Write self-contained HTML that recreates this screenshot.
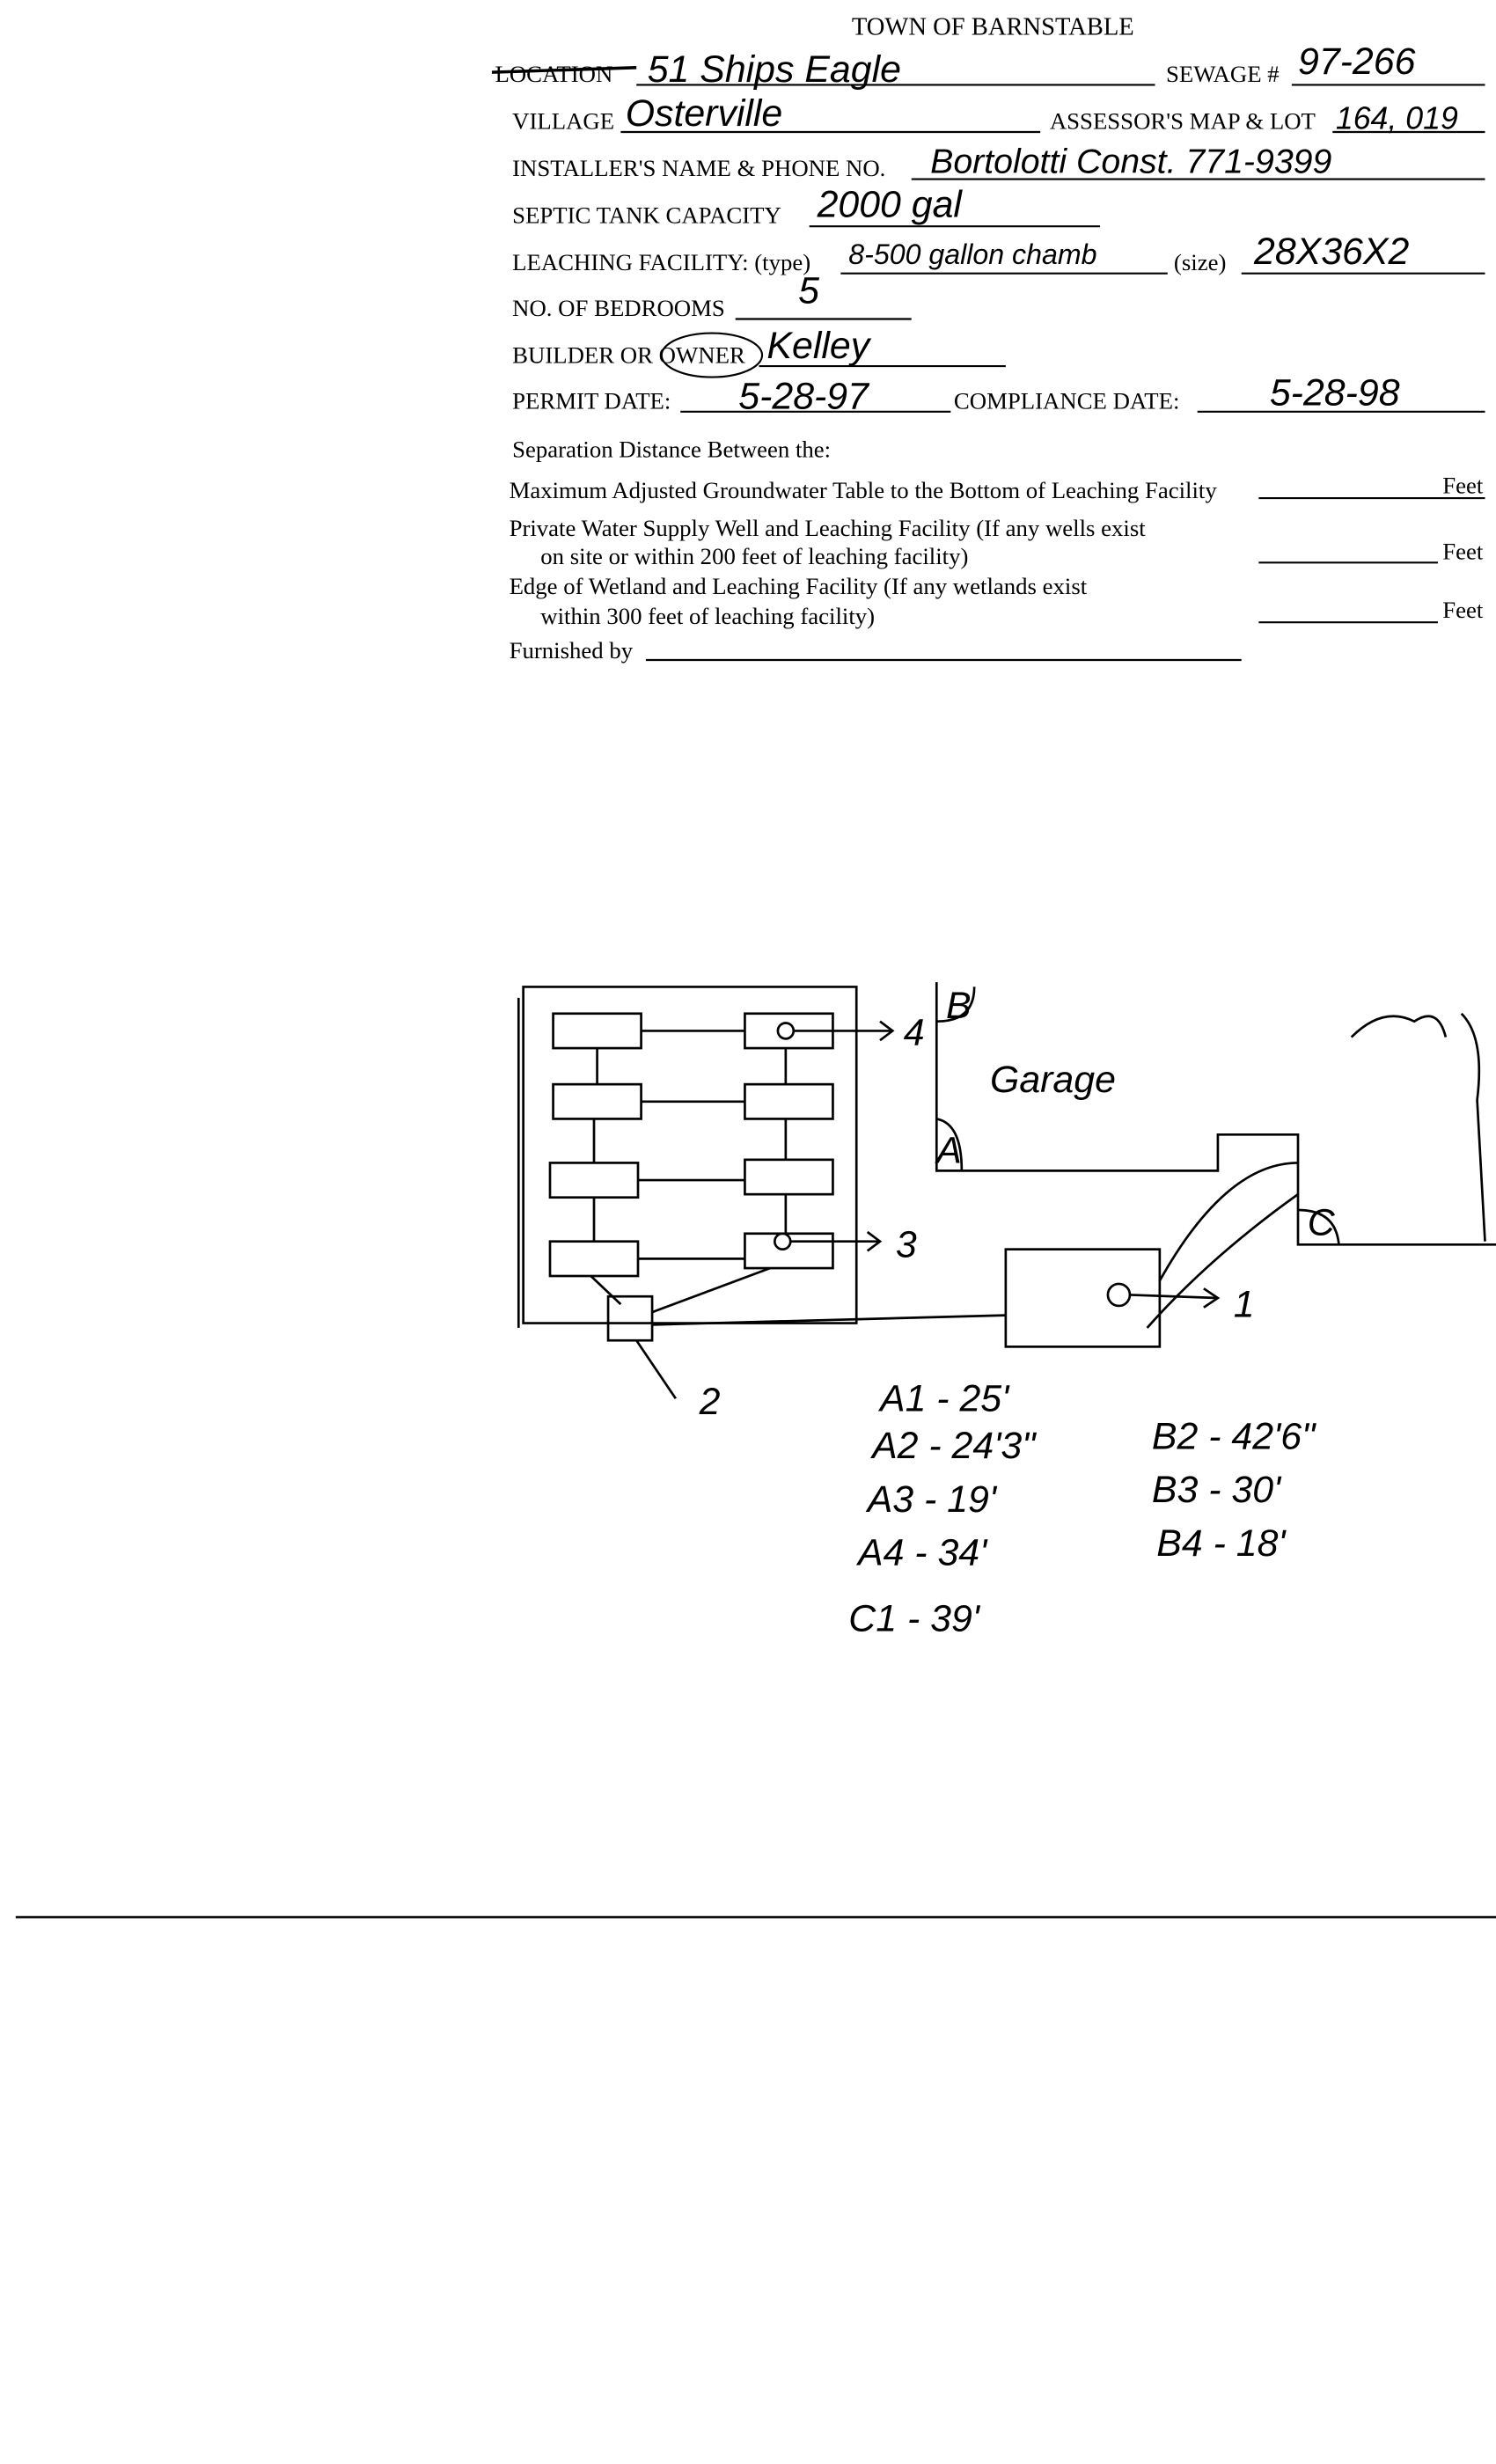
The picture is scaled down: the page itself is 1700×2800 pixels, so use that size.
<!DOCTYPE html>
<html><head><meta charset="utf-8"><style>
html,body{margin:0;padding:0;background:#fff;}
svg{display:block;}
.p{font-family:"Liberation Serif",serif;font-size:15px;fill:#000;}
.h{font-family:"Liberation Sans",sans-serif;font-style:italic;font-size:24px;fill:#000;}
</style></head><body>
<svg width="1700" height="2800" viewBox="0 0 952 1568" xmlns="http://www.w3.org/2000/svg">
<rect width="952" height="1568" fill="#fff"/>
<g class="p">
<text x="542" y="22" font-size="16">TOWN OF BARNSTABLE</text>
<text x="315" y="52">LOCATION</text>
<line x1="313" y1="46" x2="405" y2="43" stroke="#000" stroke-width="2"/>
<text x="742" y="52">SEWAGE #</text>
<text x="326" y="82">VILLAGE</text>
<text x="668" y="82">ASSESSOR'S MAP &amp; LOT</text>
<text x="326" y="112">INSTALLER'S NAME &amp; PHONE NO.</text>
<text x="326" y="142">SEPTIC TANK CAPACITY</text>
<text x="326" y="172">LEACHING FACILITY: (type)</text>
<text x="747" y="172">(size)</text>
<text x="326" y="201">NO. OF BEDROOMS</text>
<text x="326" y="231">BUILDER OR OWNER</text>
<text x="326" y="260">PERMIT DATE:</text>
<text x="607" y="260">COMPLIANCE  DATE:</text>
<text x="326" y="291">Separation Distance Between the:</text>
<text x="324" y="317">Maximum Adjusted Groundwater Table to the Bottom of Leaching Facility</text>
<text x="324" y="341">Private Water Supply Well and Leaching Facility  (If any wells exist</text>
<text x="344" y="359">on site or within 200 feet of leaching facility)</text>
<text x="324" y="378">Edge of Wetland and Leaching Facility (If any wetlands exist</text>
<text x="344" y="397">within 300 feet of leaching facility)</text>
<text x="324" y="419">Furnished by</text>
<text x="918" y="314">Feet</text><text x="918" y="356">Feet</text><text x="918" y="393">Feet</text>
</g>
<g stroke="#000" stroke-width="1.2" fill="none">
<line x1="405" y1="54" x2="735" y2="54"/><line x1="822" y1="54" x2="945" y2="54"/>
<line x1="395" y1="84" x2="662" y2="84"/><line x1="848" y1="84" x2="945" y2="84"/>
<line x1="580" y1="114" x2="945" y2="114"/>
<line x1="515" y1="144" x2="700" y2="144"/>
<line x1="535" y1="174" x2="743" y2="174"/><line x1="790" y1="174" x2="945" y2="174"/>
<line x1="468" y1="203" x2="580" y2="203"/>
<line x1="483" y1="233" x2="640" y2="233"/>
<line x1="433" y1="262" x2="605" y2="262"/><line x1="762" y1="262" x2="945" y2="262"/>
<line x1="801" y1="317" x2="945" y2="317"/><line x1="801" y1="358" x2="915" y2="358"/><line x1="801" y1="396" x2="915" y2="396"/>
<line x1="411" y1="420" x2="790" y2="420"/>
<ellipse cx="453" cy="226" rx="32" ry="14"/>
<line x1="10" y1="1220" x2="952" y2="1220" stroke-width="1.5"/>
</g>
<g class="h">
<text x="412" y="52">51 Ships Eagle</text>
<text x="826" y="47">97-266</text>
<text x="398" y="80">Osterville</text>
<text x="850" y="82" font-size="20">164, 019</text>
<text x="592" y="110" font-size="22">Bortolotti Const. 771-9399</text>
<text x="520" y="138">2000 gal</text>
<text x="540" y="168" font-size="18">8-500 gallon chamb</text>
<text x="798" y="168">28X36X2</text>
<text x="508" y="193">5</text>
<text x="488" y="228">Kelley</text>
<text x="470" y="260">5-28-97</text>
<text x="808" y="258">5-28-98</text>
<text x="630" y="695">Garage</text>
<text x="570" y="800">3</text><text x="575" y="665">4</text>
<text x="785" y="838">1</text><text x="445" y="900">2</text>
<text x="560" y="898">A1 - 25'</text>
<text x="555" y="928">A2 - 24'3"</text>
<text x="552" y="962">A3 - 19'</text>
<text x="546" y="996">A4 - 34'</text>
<text x="540" y="1038">C1 - 39'</text>
<text x="733" y="922">B2 - 42'6"</text>
<text x="733" y="956">B3 - 30'</text>
<text x="736" y="990">B4 - 18'</text>
</g>
<g stroke="#000" stroke-width="1.5" fill="none">
<path d="M333 628 L545 628 L545 842 L333 842 Z"/>
<line x1="330" y1="635" x2="330" y2="845"/>
<rect x="352" y="645" width="56" height="22"/><rect x="474" y="645" width="56" height="22"/>
<rect x="352" y="690" width="56" height="22"/><rect x="474" y="690" width="56" height="22"/>
<rect x="350" y="740" width="56" height="22"/><rect x="474" y="738" width="56" height="22"/>
<rect x="350" y="790" width="56" height="22"/><rect x="474" y="785" width="56" height="22"/>
<line x1="408" y1="656" x2="474" y2="656"/><line x1="380" y1="667" x2="380" y2="690"/><line x1="500" y1="667" x2="500" y2="690"/>
<line x1="408" y1="701" x2="474" y2="701"/><line x1="378" y1="712" x2="378" y2="740"/><line x1="500" y1="712" x2="500" y2="738"/>
<line x1="406" y1="751" x2="474" y2="751"/><line x1="378" y1="762" x2="378" y2="790"/><line x1="500" y1="760" x2="500" y2="785"/>
<line x1="406" y1="801" x2="474" y2="801"/>
<rect x="387" y="825" width="28" height="28"/>
<line x1="376" y1="812" x2="395" y2="830"/><line x1="490" y1="807" x2="415" y2="835"/>
<line x1="415" y1="843" x2="640" y2="837"/><line x1="405" y1="853" x2="430" y2="890"/>
<circle cx="500" cy="656" r="5"/><line x1="505" y1="656" x2="568" y2="656"/><path d="M560 650 L568 656 L560 662"/>
<circle cx="498" cy="790" r="5"/><line x1="503" y1="790" x2="560" y2="790"/><path d="M552 784 L560 790 L552 796"/>
<rect x="640" y="795" width="98" height="62"/>
<circle cx="712" cy="824" r="7"/><line x1="719" y1="824" x2="775" y2="826"/><path d="M766 820 L775 826 L766 832"/>
<path d="M596 625 L596 745 L775 745 L775 722 L826 722 L826 792 L952 792"/>
<path d="M596 650 Q620 650 620 628"/><path d="M596 712 Q612 715 612 745"/>
<path d="M826 770 Q850 770 852 792"/>
<path d="M738 815 Q780 740 826 740"/><path d="M730 845 Q770 800 826 760"/>
<path d="M860 660 Q880 640 900 650 Q915 640 920 660"/>
<path d="M930 645 Q945 660 940 700 L945 790"/>
</g>
<text x="602" y="648" class="h" font-size="16">B</text>
<text x="596" y="740" class="h" font-size="16">A</text>
<text x="832" y="786" class="h" font-size="16">C</text>
</svg>
</body></html>
